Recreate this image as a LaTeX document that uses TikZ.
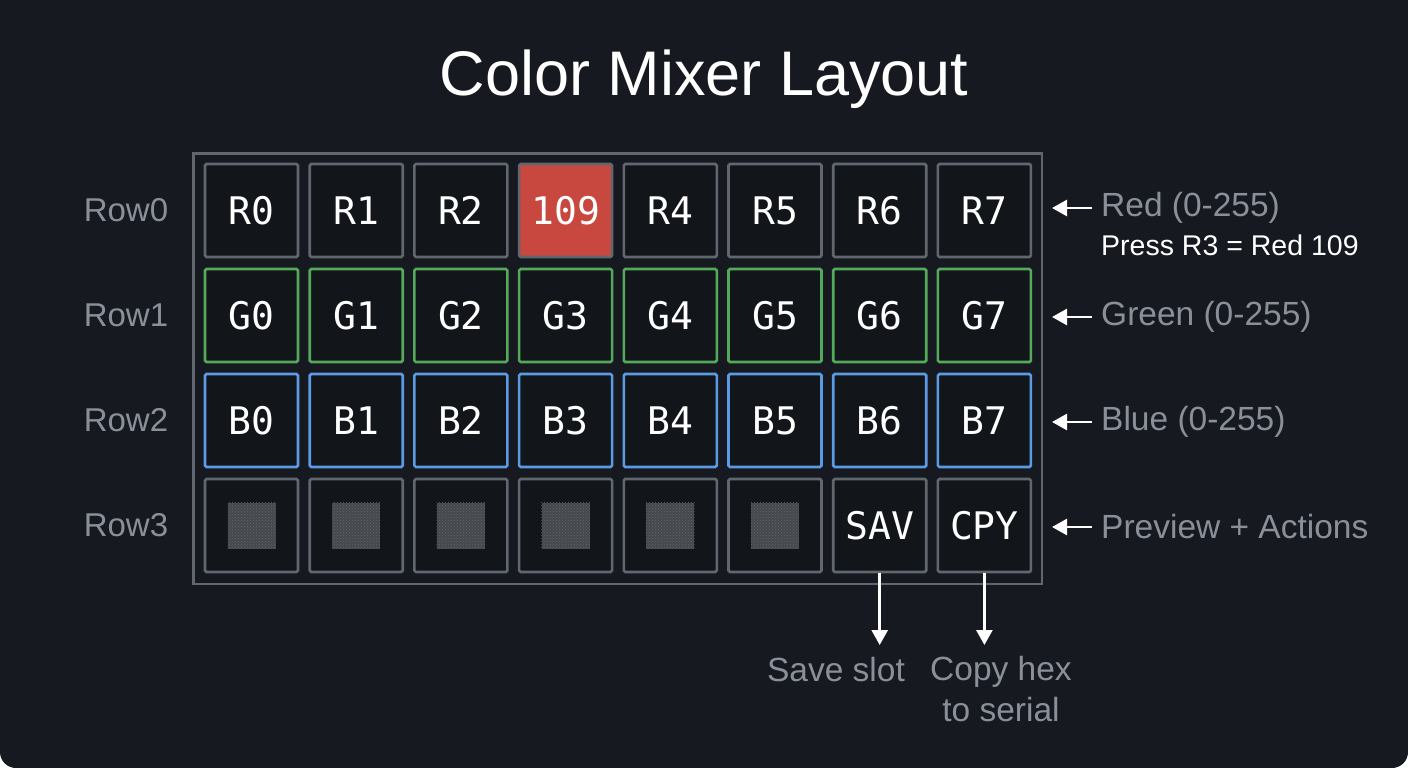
\documentclass[tikz,border=0pt]{standalone}
\usepackage{fontspec}
\setmainfont{Liberation Sans}
\newfontfamily\monofont{DejaVu Sans Mono}
\usetikzlibrary{arrows.meta,patterns}
\definecolor{bg}{HTML}{16191F}
\definecolor{cellbg}{HTML}{12151A}
\definecolor{gridgray}{HTML}{61676F}
\definecolor{labgray}{HTML}{8A9099}
\definecolor{rowgreen}{HTML}{54A95A}
\definecolor{rowblue}{HTML}{5A9BE3}
\definecolor{redfill}{HTML}{C8473E}
\definecolor{prevfill}{HTML}{45484D}
\definecolor{prevdot}{HTML}{62656A}
\tikzset{
  cellbox/.style={draw=#1, line width=2.6pt, rounded corners=1.5pt, fill=cellbg, minimum width=93pt, minimum height=93pt, inner sep=0pt, text height=27pt, text depth=0pt, text=white, font=\monofont\fontsize{38}{40}\selectfont},
  rowlab/.style={text=labgray, font=\fontsize{33}{36}\selectfont},
  sidelab/.style={text=labgray, font=\fontsize{33.5}{36}\selectfont, anchor=west, inner sep=0pt},
  notelab/.style={text=white, font=\fontsize{28.5}{31}\selectfont, anchor=west, inner sep=0pt},
  botlab/.style={text=labgray, font=\fontsize{33.5}{41}\selectfont, align=center, inner sep=0pt},
  pointer/.style={draw=white, line width=2.6pt, -{Triangle[length=15pt,width=16pt]}},
  prevsq/.style={fill=prevfill, minimum width=48pt, minimum height=46pt, inner sep=0pt}
}
\begin{document}
\begin{tikzpicture}[x=1pt,y=-1pt]
\useasboundingbox (0,0) rectangle (1408,768);
\clip (0,0) rectangle (1408,768);
\fill[white] (0,0) rectangle (1408,768);
\fill[bg,rounded corners=16pt] (0,-40) rectangle (1408,768);
% title
\node[text=white, font=\fontsize{63}{70}\selectfont] (title) at (704,79) {Color Mixer Layout};
% outer frame
\draw[gridgray, line width=2.6pt] (193.5,153.5) rectangle (1042,584);
% row 0
\foreach \i/\t in {0/R0,1/R1,2/R2,4/R4,5/R5,6/R6,7/R7} {
  \node[cellbox=gridgray] (c-\i-0) at ({251.5+104.7*\i},210.5) {\t};
}
\node[cellbox=gridgray, fill=redfill] (c-3-0) at ({251.5+104.7*3},210.5) {109};
% row 1
\foreach \i in {0,...,7} {
  \node[cellbox=rowgreen] (c-\i-1) at ({251.5+104.7*\i},315.5) {G\i};
}
% row 2
\foreach \i in {0,...,7} {
  \node[cellbox=rowblue] (c-\i-2) at ({251.5+104.7*\i},420.5) {B\i};
}
% row 3
\foreach \i in {0,...,5} {
  \node[cellbox=gridgray] (c-\i-3) at ({251.5+104.7*\i},525.5) {};
  \node[prevsq] (p-\i) at (c-\i-3) {};
  \fill[pattern=crosshatch dots, pattern color=prevdot] (p-\i.north west) rectangle (p-\i.south east);
}
\node[cellbox=gridgray] (c-6-3) at ({251.5+104.7*6},525.5) {SAV};
\node[cellbox=gridgray] (c-7-3) at ({251.5+104.7*7},525.5) {CPY};
% row labels
\node[rowlab] (r0) at (126,210.5) {Row0};
\node[rowlab] (r1) at (126,315.5) {Row1};
\node[rowlab] (r2) at (126,420.5) {Row2};
\node[rowlab] (r3) at (126,525.5) {Row3};
% side labels
\node[sidelab] (s0) at (1101,208) {Red (0-255)};
\node[notelab] (note) at (1101,245) {Press R3 = Red 109};
\node[sidelab] (s1) at (1101,317) {Green (0-255)};
\node[sidelab] (s2) at (1101,422) {Blue (0-255)};
\node[sidelab] (s3) at (1101,527) {Preview + Actions};
\coordinate (a0) at (1052,208);
\coordinate (a1) at (1052,317);
\coordinate (a2) at (1052,422);
\coordinate (a3) at (1052,527);
\draw[pointer] ([xshift=-9pt]s0.west) -- (a0);
\draw[pointer] ([xshift=-9pt]s1.west) -- (a1);
\draw[pointer] ([xshift=-9pt]s2.west) -- (a2);
\draw[pointer] ([xshift=-9pt]s3.west) -- (a3);
% bottom labels
\node[botlab] (save) at (836,670) {Save slot};
\node[botlab, anchor=north] (copy) at (1001,656) {Copy hex\\to serial};
\draw[pointer] (c-6-3.south) -- (c-6-3.south |- 0,645);
\draw[pointer] (c-7-3.south) -- (c-7-3.south |- 0,645);
\end{tikzpicture}
\end{document}
